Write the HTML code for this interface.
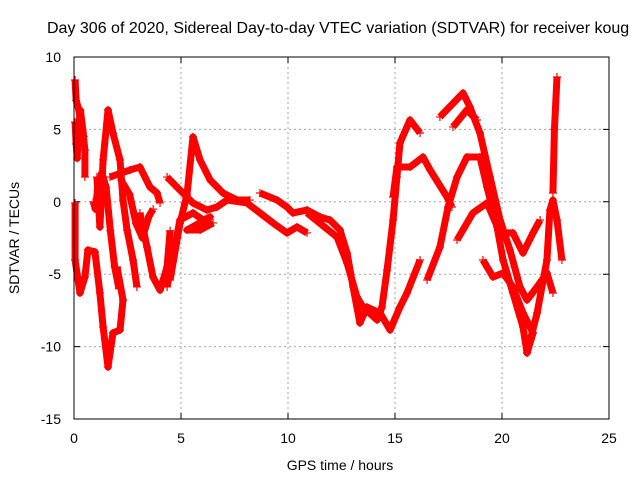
<!DOCTYPE html>
<html><head><meta charset="utf-8"><style>
html,body{margin:0;padding:0;background:#fff;width:640px;height:480px;overflow:hidden}
svg text{font-family:"Liberation Sans",sans-serif;font-size:14px;fill:#000}
</style></head><body>
<svg id="chart" width="640" height="480" viewBox="0 0 640 480" xmlns="http://www.w3.org/2000/svg">
<text x="47" y="33" style="font-size:16px">Day 306 of 2020, Sidereal Day-to-day VTEC variation (SDTVAR) for receiver koug</text>
<g id="grid"></g>
<g id="ticks"></g>
<g id="marks"></g>
<rect x="74" y="57" width="535" height="362" fill="none" stroke="#000" stroke-width="1"/>
<text x="340" y="470" text-anchor="middle">GPS time / hours</text>
<text x="0" y="0" text-anchor="middle" transform="translate(19,238) rotate(-90)">SDTVAR / TECUs</text>
</svg>
<script>
const xTicks = [0,5,10,15,20,25];
const yTicks = [-15,-10,-5,0,5,10];
const trackA = [[0.05,8.41],[0.1,7.0],[0.2,6.5],[0.28,5.86],[0.4,5.0],[0.51,3.58],[0.51,1.71]];
const trackA2 = [[0.05,5.5],[0.1,4.0],[0.15,3.0],[0.2,5.0],[0.3,6.3],[0.45,4.5]];
const trackB = [[0.05,-0.08],[0.05,-4.02],[0.28,-6.30],[0.51,-5.19],[0.65,-3.33],[0.98,-3.47],[1.21,-6.30],[1.36,-8.65],[1.59,-11.41],[1.82,-9.06],[2.15,-8.85],[2.29,-6.78],[2.01,-4.50]];
const trackC = [[1.07,1.71],[1.21,-1.74],[1.36,2.89],[1.59,6.34],[1.82,4.75],[2.15,2.89],[2.29,0.12],[2.48,-1.95],[2.76,-4.02],[2.94,-5.88]];
const trackC2 = [[0.9,0.0],[1.0,-0.5],[1.1,0.8],[1.3,2.0],[1.5,1.0],[1.7,-2.0],[1.9,-4.5],[2.1,-6.0]];
const trackD = [[1.68,1.71],[2.62,2.20],[3.08,2.40],[3.55,1.02],[3.88,0.61],[4.02,-0.08]];
const trackD2 = [[2.2,1.5],[2.6,0.5],[2.9,-1.5],[3.2,-2.5],[3.5,-1.0],[3.7,-0.5]];
const trackE = [[3.08,-0.77],[3.41,-3.12],[3.69,-5.19],[4.02,-6.10],[4.35,-4.50],[4.49,-2.0]];
const trackF = [[4.49,-5.40],[4.95,-1.5],[5.28,0.5],[5.56,4.48],[5.89,2.89],[6.36,1.51],[6.96,0.61],[7.62,0.12],[8.22,0.12]];
const trackG = [[4.35,1.71],[4.95,0.81],[5.56,-0.08],[6.21,-0.57],[6.68,-0.36],[7.15,0.12],[8.08,-0.08],[8.69,-0.77],[9.30,-1.46],[9.95,-2.15],[10.42,-1.74],[10.89,-2.15]];
const trackH = [[4.35,-5.88],[4.95,-1.26],[5.56,-0.77],[6.03,-1.26],[6.36,-1.05],[5.28,-1.95],[5.89,-1.95],[6.50,-1.46]];
const trackI = [[8.69,0.61],[9.49,0.12],[9.95,-0.36],[10.23,-0.77],[10.89,-0.57],[11.50,-1.05],[11.96,-1.26],[12.43,-1.95],[12.76,-3.54],[13.04,-5.88],[13.36,-8.37],[13.69,-7.27],[14.30,-7.68],[14.77,-8.85],[15.23,-7.27],[15.56,-6.3],[16.17,-4.02]];
const trackJ = [[10.89,-0.77],[12.29,-2.43],[12.76,-4.23],[13.22,-6.57],[13.50,-7.27],[14.16,-8.16],[14.39,-7.27],[14.63,-4.71],[14.91,-1.26],[15.09,1.71],[15.23,4.06],[15.70,5.65],[16.17,4.75]];
const trackK = [[14.91,0.33],[15.09,2.40],[15.70,2.40],[16.31,3.09],[16.64,2.20],[17.43,0.33],[17.66,-0.36]];
const trackL = [[16.50,-5.40],[17.10,-3.12],[17.48,-0.36],[17.90,1.71],[18.36,3.09],[18.97,3.09],[19.30,1.02],[19.77,-1.74],[20.05,-4.02],[20.51,-6.30],[20.98,-8.65],[21.17,-10.44]];
const trackM = [[17.10,5.86],[18.18,7.51],[18.50,6.55],[18.97,4.75],[19.44,1.71],[19.91,-1.26],[20.37,-3.33],[20.84,-5.88],[21.17,-6.78],[21.64,-5.88],[22.10,-4.92],[22.38,-6.30]];
const trackM2 = [[17.71,5.17],[18.36,6.34],[18.83,5.65]];
const trackN = [[17.90,-2.64],[18.64,-0.77],[19.30,-0.08],[19.91,-2.15],[20.51,-2.15],[20.98,-3.54],[21.45,-2.15],[21.78,-1.26]];
const trackO = [[19.11,-4.02],[19.58,-5.19],[20.05,-4.92],[20.51,-5.88],[20.98,-7.68],[21.45,-9.06],[21.17,-10.44],[21.64,-7.68],[22.10,-4.02],[22.24,-0.57],[22.38,0.12],[22.57,-1.26],[22.80,-4.02]];
const trackP = [[22.57,8.62],[22.45,5.0],[22.38,0.61]];
const tracks = [trackA,trackA2,trackB,trackC,trackC2,trackD,trackD2,trackE,trackF,trackG,trackH,trackI,trackJ,trackK,trackL,trackM,trackM2,trackN,trackO,trackP];

const X0=74,X1=609,Y0=419,Y1=57;
function xs(t){return X0+(t-0)/(25-0)*(X1-X0);}
function ys(v){return Y0-(v+15)/(10+15)*(Y0-Y1);}
const NS="http://www.w3.org/2000/svg";
const grid=document.getElementById('grid'),ticks=document.getElementById('ticks'),marks=document.getElementById('marks');
xTicks.forEach(function(t){
  const x=xs(t);
  if(t>0&&t<25){const g=document.createElementNS(NS,'line');
  
  
  g.setAttribute('x1',x);g.setAttribute('x2',x);g.setAttribute('y1',Y1);g.setAttribute('y2',Y0);
  g.setAttribute('stroke','#a0a0a0');g.setAttribute('stroke-dasharray','2,3');grid.appendChild(g);}
  const tk=document.createElementNS(NS,'path');
  
  
  tk.setAttribute('d','M'+x+' '+Y0+'v-6M'+x+' '+Y1+'v6');tk.setAttribute('stroke','#000');ticks.appendChild(tk);
  const lb=document.createElementNS(NS,'text');
  
  
  lb.setAttribute('x',x);lb.setAttribute('y',443);lb.setAttribute('text-anchor','middle');lb.textContent=t;ticks.appendChild(lb);
});
yTicks.forEach(function(v){
  const y=ys(v);
  if(v>-15&&v<10){const g=document.createElementNS(NS,'line');
  
  
  g.setAttribute('x1',X0);g.setAttribute('x2',X1);g.setAttribute('y1',y);g.setAttribute('y2',y);
  g.setAttribute('stroke','#a0a0a0');g.setAttribute('stroke-dasharray','2,3');grid.appendChild(g);}
  const tk=document.createElementNS(NS,'path');
  
  
  tk.setAttribute('d','M'+X0+' '+y+'h6M'+X1+' '+y+'h-6');tk.setAttribute('stroke','#000');ticks.appendChild(tk);
  const lb=document.createElementNS(NS,'text');
  
  
  lb.setAttribute('x',61);lb.setAttribute('y',y+5);lb.setAttribute('text-anchor','end');lb.textContent=v;ticks.appendChild(lb);
});
tracks.forEach(function(tr,i){
  const pl=document.createElementNS(NS,'polyline');
  
  
  pl.setAttribute('points',tr.map(function(p){return xs(p[0])+','+ys(p[1]);}).join(' '));
  pl.setAttribute('fill','none');pl.setAttribute('stroke','#ff0000');pl.setAttribute('stroke-width','7');pl.setAttribute('stroke-linejoin','round');
  marks.appendChild(pl);
  tr.forEach(function(p){
    const m=document.createElementNS(NS,'path');
    
    
    const x=xs(p[0]),y=ys(p[1]);
    m.setAttribute('d','M'+(x-4)+' '+y+'h8M'+x+' '+(y-4)+'v8');m.setAttribute('stroke','#ff0000');m.setAttribute('stroke-width','1.2');
    marks.appendChild(m);
  });
});
</script>
</body></html>
